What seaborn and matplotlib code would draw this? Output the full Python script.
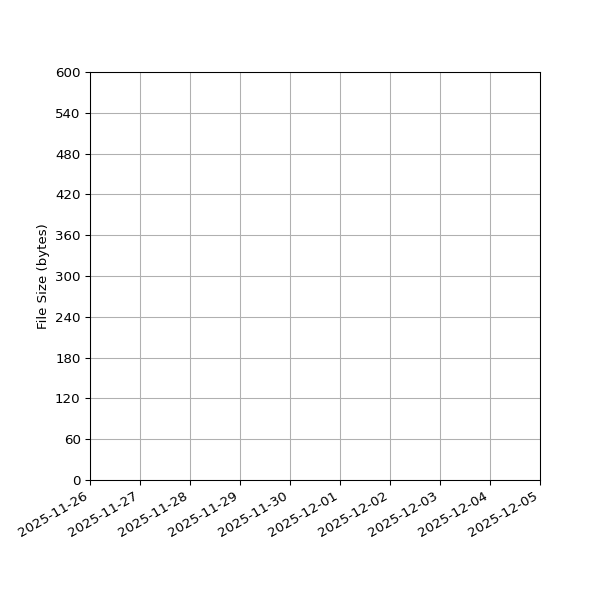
import pandas as pd
import matplotlib
matplotlib.use('Agg')
import matplotlib.pyplot as plt
import matplotlib.dates as mdates
import seaborn as sns

# No file size records in the range shown: the chart is empty
dates = []
sizes = []

x_start = '2025-11-26'
x_end = '2025-12-05'
y_max = 600
y_step = 60

dados = pd.DataFrame({'date': pd.to_datetime(dates), 'size': pd.Series(sizes, dtype=float)})

plt.style.use('default')
fig, ax = plt.subplots(figsize=(6.25, 6.25), dpi=96)

if len(dados) > 0:
    sns.lineplot(data=dados, x='date', y='size', ax=ax)

ax.set_xlim(pd.Timestamp(x_start), pd.Timestamp(x_end))
ax.set_ylim(0, y_max)
ax.set_yticks(range(0, y_max + 1, y_step))
ax.xaxis.set_major_locator(mdates.DayLocator())
ax.xaxis.set_major_formatter(mdates.DateFormatter('%Y-%m-%d'))
ax.set_xlabel('')
ax.set_ylabel('File Size (bytes)')
ax.grid(True)

fig.autofmt_xdate()
fig.subplots_adjust(left=0.15, right=0.9, top=0.88, bottom=0.2)
fig.savefig('out.png', dpi=96)
